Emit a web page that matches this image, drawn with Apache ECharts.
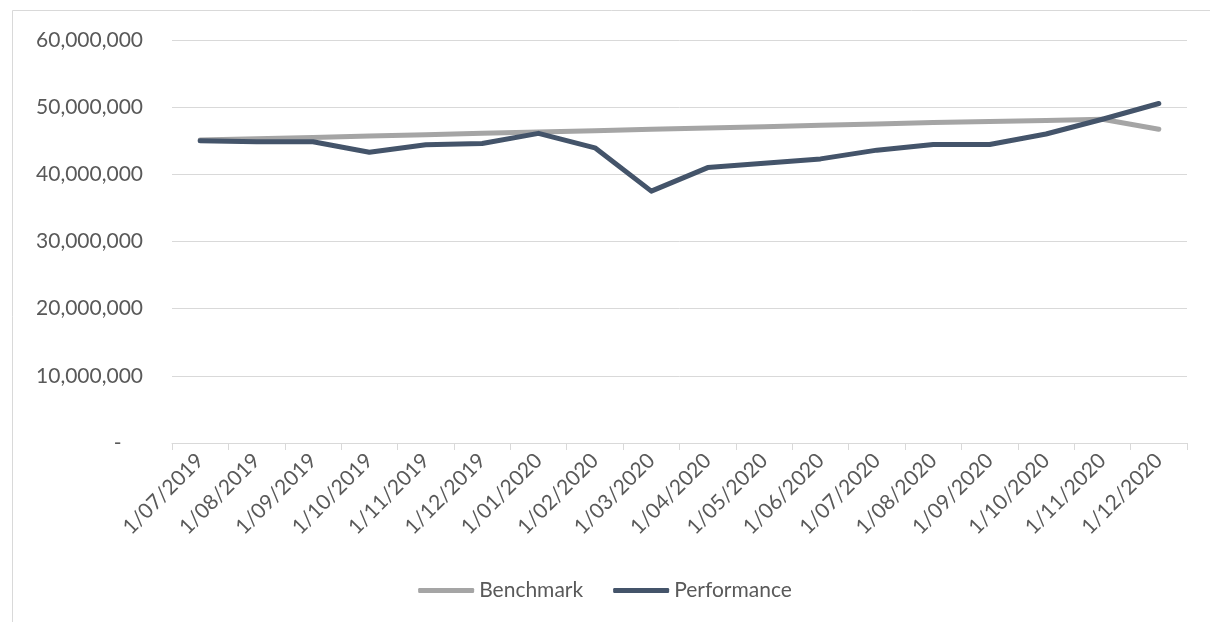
<!DOCTYPE html>
<html>
<head>
<meta charset="utf-8">
<script src="https://cdn.jsdelivr.net/npm/echarts@6/dist/echarts.min.js"></script>
<style>
html,body{margin:0;padding:0;background:#fff;}
#chart{width:1210px;height:622px;}
</style>
</head>
<body>
<div id="chart"></div>
<script>
const categories = ['1/07/2019','1/08/2019','1/09/2019','1/10/2019','1/11/2019','1/12/2019','1/01/2020','1/02/2020','1/03/2020','1/04/2020','1/05/2020','1/06/2020','1/07/2020','1/08/2020','1/09/2020','1/10/2020','1/11/2020','1/12/2020'];
const benchmark = [45100000,45300000,45500000,45700000,45900000,46100000,46300000,46500000,46700000,46900000,47100000,47300000,47500000,47700000,47850000,48000000,48200000,46700000];
const performance = [45000000,44850000,44850000,43300000,44400000,44600000,46100000,43950000,37500000,41000000,41650000,42300000,43600000,44450000,44450000,46000000,48200000,50550000];
const yTicks = {min:0, max:60000000, interval:10000000};

const chart = echarts.init(document.getElementById('chart'));
const font = 'Lato';
chart.setOption({
  backgroundColor:'#fff',
  animation:false,
  graphic:[{type:'rect', shape:{x:12.5,y:10.5,width:1400,height:800}, style:{fill:'none',stroke:'#D9D9D9',lineWidth:1}, silent:true}],
  grid:{left:172,right:23,top:40,bottom:179},
  legend:{
    bottom:16, left:'center',
    icon:'roundRect',
    itemWidth:56, itemHeight:5, itemGap:30,
    textStyle:{color:'#595959',fontFamily:font,fontSize:21},
    data:['Benchmark','Performance']
  },
  xAxis:{
    type:'category', data:categories, boundaryGap:true,
    axisLine:{lineStyle:{color:'#D9D9D9',width:1}},
    axisTick:{show:true,length:7,lineStyle:{color:'#D9D9D9'}},
    axisLabel:{rotate:45,color:'#595959',fontFamily:font,fontSize:21,margin:14,interval:0}
  },
  yAxis:{
    type:'value', min:yTicks.min, max:yTicks.max, interval:yTicks.interval,
    axisLine:{show:false}, axisTick:{show:false},
    splitLine:{lineStyle:{color:'#D9D9D9',width:1}},
    axisLabel:{color:'#595959',fontFamily:font,fontSize:21,margin:29,
      formatter:v=> v===0 ? '-    ' : v.toLocaleString('en-US')}
  },
  series:[
    {name:'Benchmark',type:'line',data:benchmark,symbol:'none',
     lineStyle:{color:'#A5A5A5',width:5,cap:'round',join:'round'},itemStyle:{color:'#A5A5A5'}},
    {name:'Performance',type:'line',data:performance,symbol:'none',
     lineStyle:{color:'#44546A',width:5,cap:'round',join:'round'},itemStyle:{color:'#44546A'}}
  ]
});
</script>
</body>
</html>
